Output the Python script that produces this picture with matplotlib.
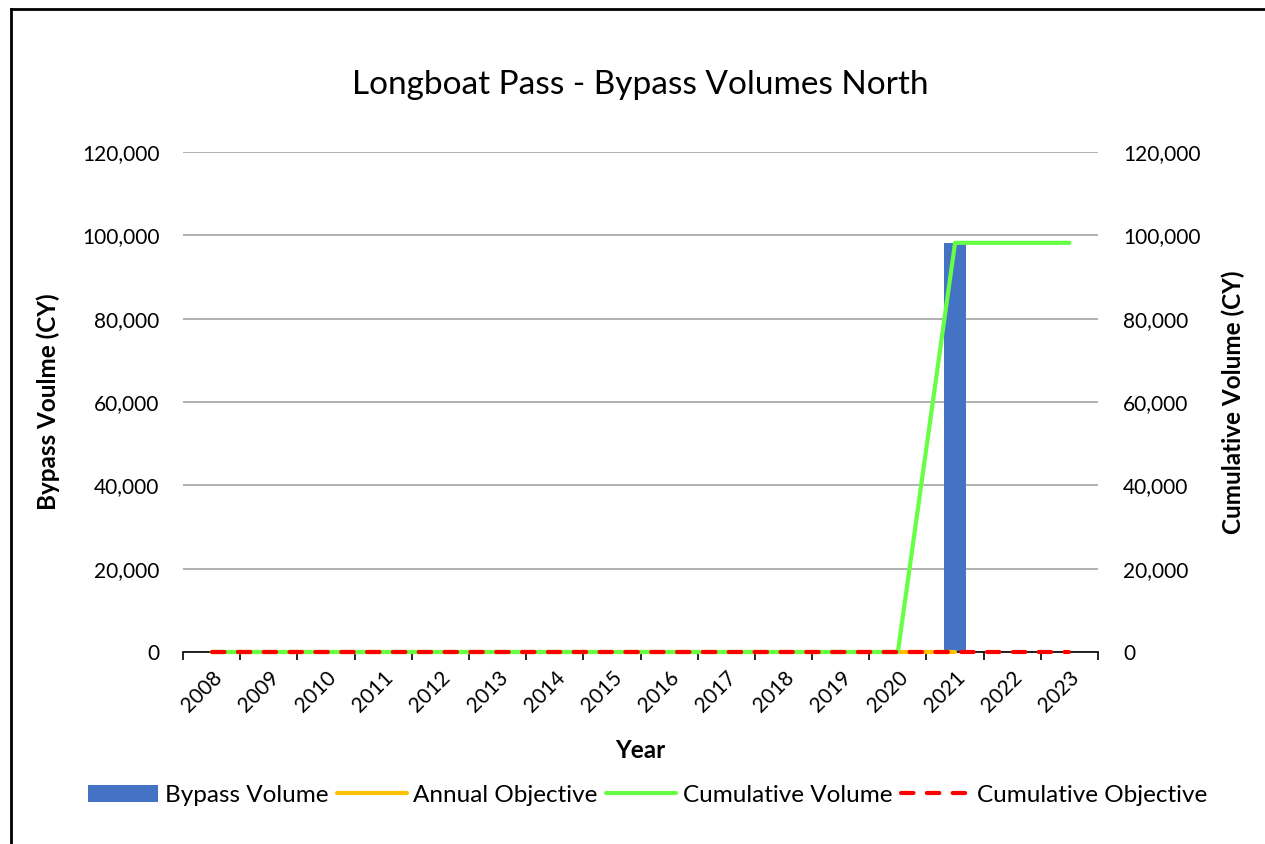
import matplotlib
matplotlib.use("Agg")
import matplotlib.pyplot as plt
from matplotlib.lines import Line2D
import numpy as np

years = [str(y) for y in range(2008, 2024)]
bypass_volume = [0, 0, 0, 0, 0, 0, 0, 0, 0, 0, 0, 0, 0, 98200, 0, 0]
annual_objective = [0, 0, 0, 0, 0, 0, 0, 0, 0, 0, 0, 0, 0, 0, np.nan, np.nan]
cumulative_volume = [0, 0, 0, 0, 0, 0, 0, 0, 0, 0, 0, 0, 0, 98200, 98200, 98200]
cumulative_objective = [0] * 16
y_ticks = [0, 20000, 40000, 60000, 80000, 100000, 120000]

plt.rcParams['font.family'] = ['Lato', 'DejaVu Sans']

fig = plt.figure(figsize=(12.65, 8.44), dpi=100)
ax = fig.add_axes([0.1447, 0.2275, 0.7233, 0.5924])
ax2 = ax.twinx()

x = np.arange(len(years))
bars = ax.bar(x, bypass_volume, width=0.4, color='#4472C4', zorder=2, label='Bypass Volume')

l1, = ax2.plot(x, annual_objective, color='#FFC000', lw=3, solid_capstyle='round', label='Annual Objective', zorder=3, clip_on=False)
l2, = ax2.plot(x, cumulative_volume, color='#66FF44', lw=3, solid_capstyle='round', label='Cumulative Volume', zorder=4, clip_on=False)
l3, = ax2.plot(x, cumulative_objective, color='#FF0000', lw=3, dashes=(3.0, 3.2), dash_capstyle='round', label='Cumulative Objective', zorder=5, clip_on=False)

for a in (ax, ax2):
    a.set_ylim(0, 120000)
    a.set_xlim(-0.5, len(years) - 0.5)
    a.set_yticks(y_ticks)
    a.set_yticklabels([f"{v:,}" for v in y_ticks], fontsize=15)
    for s in ['top', 'left', 'right']:
        a.spines[s].set_visible(False)
    a.tick_params(axis='y', length=0)
ax.tick_params(axis='y', pad=17)
ax2.tick_params(axis='y', pad=18)
ax.spines['bottom'].set_color('black')
ax.spines['bottom'].set_linewidth(1.2)
ax2.spines['bottom'].set_visible(False)

ax.yaxis.grid(True, color='#B0B0B0', lw=1.4)
ax.set_axisbelow(True)

ax.set_xticks(np.arange(-0.5, len(years) + 0.5, 1))
ax.set_xticklabels([])
ax.tick_params(axis='x', length=6, width=1.2, color='black', direction='out')
ax.set_xticks(x, minor=True)
ax.set_xticklabels(years, minor=True, rotation=45, ha='right', rotation_mode='anchor', fontsize=15)
ax.tick_params(axis='x', which='minor', length=0, pad=11)

ax.set_xlabel('Year', fontsize=17.5, fontweight='bold', labelpad=17)
ax.set_ylabel('Bypass Voulme (CY)', fontsize=17.5, fontweight='bold', labelpad=16)
ax2.set_ylabel('Cumulative Volume (CY)', fontsize=17.5, fontweight='bold', labelpad=15)

fig.text(0.506, 0.899, 'Longboat Pass - Bypass Volumes North', fontsize=24, ha='center', va='center')

fig.legend(handles=[bars, l1, l2, l3], loc='center', bbox_to_anchor=(0.512, 0.058), ncol=4,
           frameon=False, fontsize=17.5, handlelength=2.9, handletextpad=0.25, columnspacing=0.35)

# outer border (top and left visible)
fig.add_artist(Line2D([0.0085, 0.0085], [0, 0.9895], transform=fig.transFigure, color='black', lw=2))
fig.add_artist(Line2D([0.0085, 1.0], [0.9895, 0.9895], transform=fig.transFigure, color='black', lw=2))

fig.savefig('out.png', dpi=100)
